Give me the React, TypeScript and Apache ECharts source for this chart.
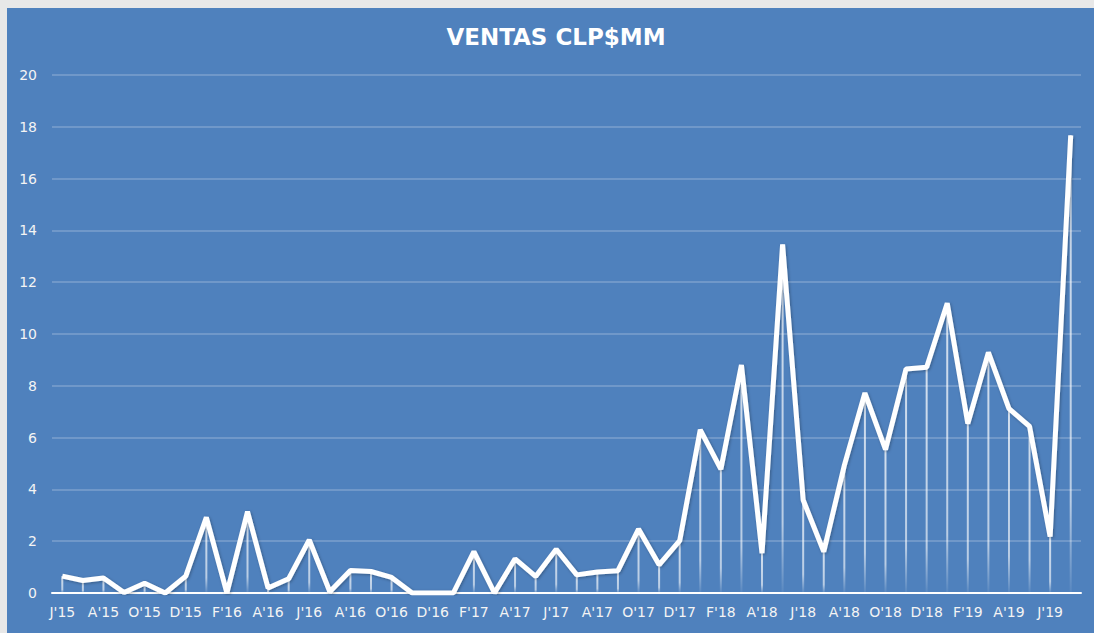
import React, { useEffect, useRef } from "react";
import * as echarts from "echarts";

const months: string[] = [
  "J'15", "J'15", "A'15", "S'15", "O'15", "N'15", "D'15",
  "E'16", "F'16", "M'16", "A'16", "M'16", "J'16", "J'16", "A'16", "S'16", "O'16", "N'16", "D'16",
  "E'17", "F'17", "M'17", "A'17", "M'17", "J'17", "J'17", "A'17", "S'17", "O'17", "N'17", "D'17",
  "E'18", "F'18", "M'18", "A'18", "M'18", "J'18", "J'18", "A'18", "S'18", "O'18", "N'18", "D'18",
  "E'19", "F'19", "M'19", "A'19", "M'19", "J'19", "J'19",
];

const ventas: number[] = [
  0.65, 0.48, 0.58, 0.02, 0.38, 0.0, 0.65,
  2.92, 0.0, 3.14, 0.19, 0.55, 2.05, 0.05, 0.87, 0.83, 0.6, 0.0, 0.0,
  0.0, 1.6, 0.0, 1.32, 0.64, 1.69, 0.7, 0.81, 0.86, 2.47, 1.09, 2.02,
  6.3, 4.78, 8.8, 1.54, 13.46, 3.59, 1.6, 4.93, 7.72, 5.54, 8.65, 8.72,
  11.19, 6.54, 9.29, 7.12, 6.43, 2.18, 17.67,
];

const titleText = "VENTAS CLP$MM";

export default function App() {
  const ref = useRef<HTMLDivElement>(null);
  useEffect(() => {
    document.body.style.margin = "0";
    document.body.style.background = "#e8e8e8";
    const chart = echarts.init(ref.current!, null, { renderer: "svg" });
    chart.setOption({
      animation: false,
      backgroundColor: "#4f81bd",
      title: {
        text: titleText,
        left: 544,
        top: 12,
        textAlign: "center",
        textStyle: {
          color: "#ffffff",
          fontFamily: "DejaVu Sans",
          fontWeight: "bold",
          fontSize: 23,
        },
      },
      grid: { left: 45, right: 13, top: 67, bottom: 40 },
      xAxis: {
        type: "category",
        data: months,
        boundaryGap: true,
        axisLine: { lineStyle: { color: "#ffffff", width: 2 } },
        axisTick: { show: false },
        axisLabel: {
          interval: 1,
          color: "#f4f4f4",
          fontFamily: "DejaVu Sans",
          fontSize: 14,
          margin: 12,
        },
      },
      yAxis: {
        type: "value",
        min: 0,
        max: 20,
        interval: 2,
        axisLine: { show: false },
        axisTick: { show: false },
        splitLine: { lineStyle: { color: "rgba(255,255,255,0.25)", width: 1.5 } },
        axisLabel: {
          color: "#f4f4f4",
          fontFamily: "DejaVu Sans",
          fontSize: 14,
          margin: 15,
        },
      },
      series: [
        {
          type: "bar",
          data: ventas,
          barWidth: 2,
          silent: true,
          itemStyle: {
            color: new echarts.graphic.LinearGradient(0, 0, 0, 1, [
              { offset: 0, color: "rgba(255,255,255,0.75)" },
              { offset: 0.8, color: "rgba(255,255,255,0.6)" },
              { offset: 1, color: "rgba(255,255,255,0.05)" },
            ]),
          },
        },
        {
          type: "line",
          data: ventas,
          symbol: "none",
          z: 5,
          lineStyle: {
            color: "#ffffff",
            width: 5,
            shadowColor: "rgba(0,0,0,0.3)",
            shadowBlur: 3,
            shadowOffsetX: 1,
            shadowOffsetY: 1,
          },
        },
      ],
    });
    return () => chart.dispose();
  }, []);
  return (
    <div
      ref={ref}
      style={{ position: "absolute", left: 7, top: 8, width: 1087, height: 625 }}
    />
  );
}
